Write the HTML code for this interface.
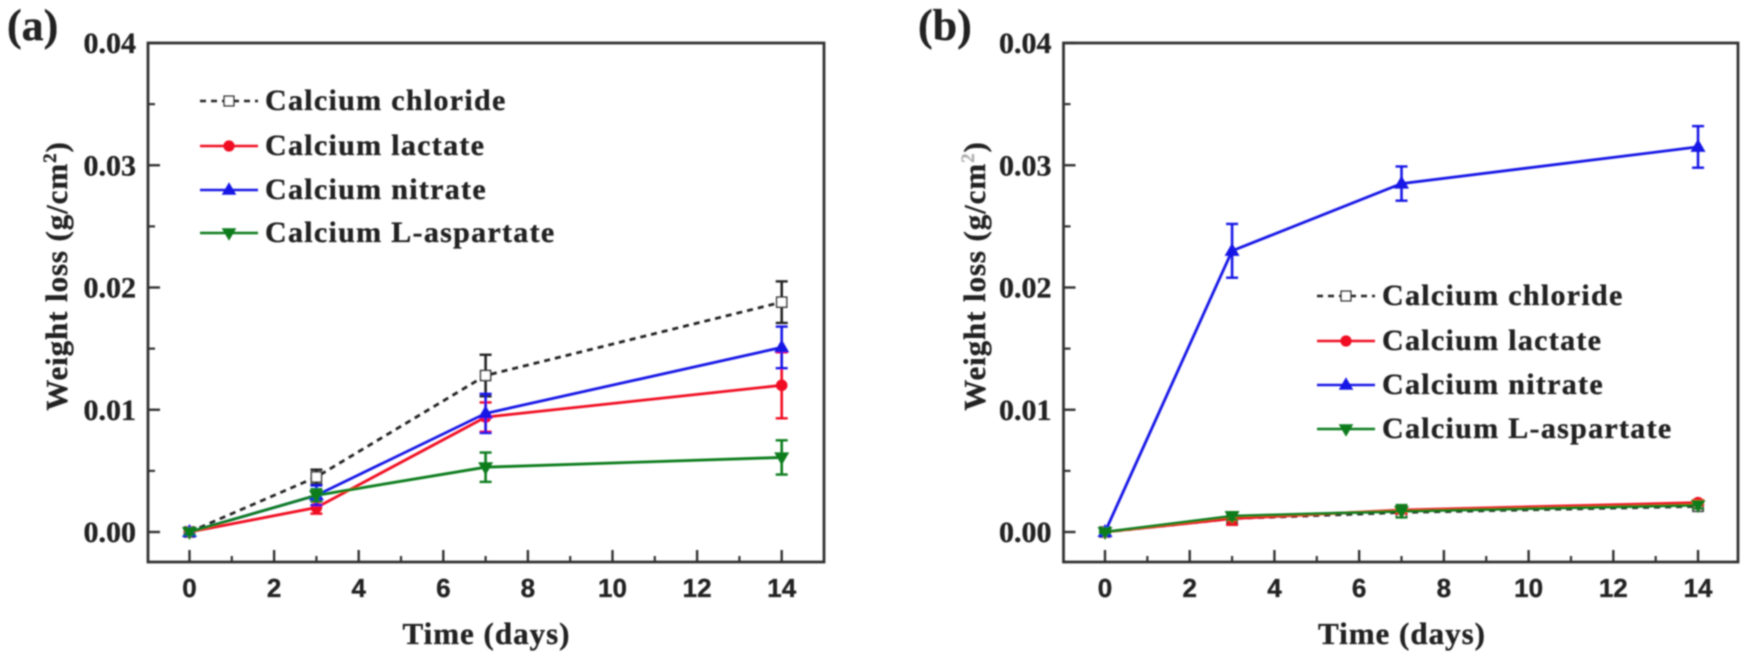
<!DOCTYPE html>
<html lang="en">
<head>
<meta charset="utf-8">
<title>Weight loss of calcium salts over time</title>
<style>
html,body{margin:0;padding:0;background:#fff;width:1750px;height:659px;overflow:hidden}
svg{display:block;position:absolute;left:0;top:0}
text{font-family:"Liberation Serif",serif;font-weight:bold;fill:#222;stroke:#222;stroke-width:0.35px}
.sans{font-family:"Liberation Sans",sans-serif}
</style>
</head>
<body>
<svg id="chart" xmlns="http://www.w3.org/2000/svg" width="1750" height="659" viewBox="0 0 1750 659">
<defs><filter id="soft" x="-2%" y="-2%" width="104%" height="104%"><feGaussianBlur stdDeviation="0.85"/></filter></defs>
<g id="root" filter="url(#soft)"></g>
</svg>
<script>
const days = [0, 3, 7, 14];
const seriesNames = ["Calcium chloride", "Calcium lactate", "Calcium nitrate", "Calcium L-aspartate"];
const yTickLabels = ["0.00", "0.01", "0.02", "0.03", "0.04"];
const xTickLabels = ["0", "2", "4", "6", "8", "10", "12", "14"];

const chlorideA = [0, 0.0045, 0.0128, 0.0188];
const chlorideAErr = [0.0002, 0.0006, 0.0017, 0.0017];
const lactateA = [0, 0.0020, 0.0094, 0.0120];
const lactateAErr = [0.0002, 0.0005, 0.0012, 0.0027];
const nitrateA = [0, 0.0030, 0.0097, 0.0151];
const nitrateAErr = [0.0002, 0.0008, 0.0016, 0.0017];
const aspartateA = [0, 0.0030, 0.0053, 0.0061];
const aspartateAErr = [0.0002, 0.0005, 0.0012, 0.0014];

const chlorideB = [0, 0.0011, 0.0016, 0.0021];
const chlorideBErr = [0.0001, 0.0005, 0.0004, 0.0003];
const lactateB = [0, 0.0011, 0.0018, 0.0024];
const lactateBErr = [0.0001, 0.0005, 0.0003, 0.0002];
const nitrateB = [0, 0.0230, 0.0285, 0.0315];
const nitrateBErr = [0.0002, 0.0022, 0.0014, 0.0017];
const aspartateB = [0, 0.0013, 0.0017, 0.0022];
const aspartateBErr = [0.0001, 0.0003, 0.0005, 0.0003];

const NS = "http://www.w3.org/2000/svg";
const root = document.getElementById("root");
const colors = ["#222222", "#f01020", "#1414e6", "#0a7d1e"];
const kinds = ["square", "circle", "up", "down"];
const slugs = ["chloride", "lactate", "nitrate", "aspartate"];

function mk(parent, tag, attrs, txt) {
  const el = document.createElementNS(NS, tag);
  for (const k in attrs) el.setAttribute(k, attrs[k]);
  if (txt !== undefined) el.textContent = txt;
  parent.appendChild(el);
  return el;
}

function marker(parent, kind, x, y, color, s) {
  let el;
  if (kind === "square") {
    el = mk(parent, "rect", {x: x - s, y: y - s, width: 2 * s, height: 2 * s, fill: "#fff", stroke: "#333", "stroke-width": 1.6});
  } else if (kind === "circle") {
    el = mk(parent, "circle", {cx: x, cy: y, r: s + 0.8, fill: color});
  } else if (kind === "up") {
    el = mk(parent, "polygon", {points: (x) + "," + (y - s - 3) + " " + (x - s - 2.5) + "," + (y + s) + " " + (x + s + 2.5) + "," + (y + s), fill: color});
  } else {
    el = mk(parent, "polygon", {points: (x) + "," + (y + s + 3) + " " + (x - s - 2.5) + "," + (y - s) + " " + (x + s + 2.5) + "," + (y - s), fill: color});
  }
  
  
  return el;
}

function panel(cfg) {
  const g = mk(root, "g", {});
  
  
  const xS = d => cfg.x0 + d * cfg.dayPx;
  const yS = v => 532 - v * 12225;

  const frame = mk(g, "rect", {x: cfg.left, y: 43, width: cfg.right - cfg.left, height: 519, fill: "none", stroke: "#333", "stroke-width": 2.8});
  
  

  const yAxis = mk(g, "g", {});
  
  
  yTickLabels.forEach((lab, i) => {
    const v = Number(lab);
    mk(yAxis, "line", {x1: cfg.left, x2: cfg.left + 12, y1: yS(v), y2: yS(v), stroke: "#333", "stroke-width": 2.4});
    if (i < yTickLabels.length - 1) {
      mk(yAxis, "line", {x1: cfg.left, x2: cfg.left + 7, y1: yS(v + 0.005), y2: yS(v + 0.005), stroke: "#333", "stroke-width": 2.2});
    }
    const t = mk(yAxis, "text", {x: cfg.left - 12, y: yS(v) + 10, "text-anchor": "end", "font-size": 30}, lab);
    
    
  });

  const xAxis = mk(g, "g", {});
  
  
  xTickLabels.forEach((lab, i) => {
    const d = Number(lab);
    mk(xAxis, "line", {x1: xS(d), x2: xS(d), y1: 562, y2: 550, stroke: "#333", "stroke-width": 2.4});
    if (i < xTickLabels.length - 1) {
      mk(xAxis, "line", {x1: xS(d + 1), x2: xS(d + 1), y1: 562, y2: 556, stroke: "#333", "stroke-width": 2.2});
    }
    const t = mk(xAxis, "text", {x: xS(d), y: 597, "text-anchor": "middle", "font-size": 26, class: "sans"}, lab);
    
    
  });

  const xt = mk(g, "text", {x: cfg.x0 + 297, y: 644, "text-anchor": "middle", "font-size": 31, "letter-spacing": 1}, "Time (days)");
  
  

  const yt = mk(g, "text", {transform: "translate(" + cfg.yTitleX + ",276) rotate(-90)", "text-anchor": "middle", "font-size": 31, "letter-spacing": 0.9});
  
  
  mk(yt, "tspan", {}, "Weight loss (g/cm");
  mk(yt, "tspan", {dy: -11, "font-size": 19, opacity: cfg.supOpacity}, "2");
  mk(yt, "tspan", {dy: 11}, ")");

  const lab = mk(g, "text", {x: cfg.tagX, y: 40, "font-size": 44}, cfg.tag);
  
  

  cfg.series.forEach((s, i) => {
    const sg = mk(g, "g", {});
    
    
    const color = colors[i];
    days.forEach((d, j) => {
      const x = xS(d), hi = yS(s.v[j] + s.e[j]), lo = yS(s.v[j] - s.e[j]);
      mk(sg, "line", {x1: x, x2: x, y1: hi, y2: lo, stroke: color, "stroke-width": 2.6});
      mk(sg, "line", {x1: x - 6, x2: x + 6, y1: hi, y2: hi, stroke: color, "stroke-width": 2.4});
      mk(sg, "line", {x1: x - 6, x2: x + 6, y1: lo, y2: lo, stroke: color, "stroke-width": 2.4});
    });
    const pts = days.map((d, j) => xS(d) + "," + yS(s.v[j])).join(" ");
    const line = mk(sg, "polyline", {points: pts, fill: "none", stroke: color, "stroke-width": 2.8});
    if (i === 0) line.setAttribute("stroke-dasharray", "6 5");
    
    
    days.forEach((d, j) => marker(sg, kinds[i], xS(d), yS(s.v[j]), color, 5));
  });

  const lg = mk(g, "g", {});
  
  
  seriesNames.forEach((name, i) => {
    const y = cfg.legendY[i];
    const e = mk(lg, "g", {});
    
    
    const ln = mk(e, "line", {x1: cfg.legendX, x2: cfg.legendX + 58, y1: y, y2: y, stroke: colors[i], "stroke-width": 2.6});
    if (i === 0) ln.setAttribute("stroke-dasharray", "6 5");
    marker(e, kinds[i], cfg.legendX + 29, y, colors[i], 4.8);
    const t = mk(e, "text", {x: cfg.legendX + 65, y: y + 9, "font-size": 30, "letter-spacing": 1.3}, name);
    
    
  });
}

panel({
  id: "a", tag: "(a)", left: 148, right: 824, x0: 189.5, dayPx: 42.3, tagX: 7, yTitleX: 67, supOpacity: 1,
  legendX: 200, legendY: [101, 146, 190, 233],
  series: [
    {v: chlorideA, e: chlorideAErr},
    {v: lactateA, e: lactateAErr},
    {v: nitrateA, e: nitrateAErr},
    {v: aspartateA, e: aspartateAErr}
  ]
});
panel({
  id: "b", tag: "(b)", left: 1063.5, right: 1738, x0: 1105, dayPx: 42.36, tagX: 918, yTitleX: 985, supOpacity: 0.35,
  legendX: 1317, legendY: [296, 341, 385, 429],
  series: [
    {v: chlorideB, e: chlorideBErr},
    {v: lactateB, e: lactateBErr},
    {v: nitrateB, e: nitrateBErr},
    {v: aspartateB, e: aspartateBErr}
  ]
});
</script>
</body>
</html>
